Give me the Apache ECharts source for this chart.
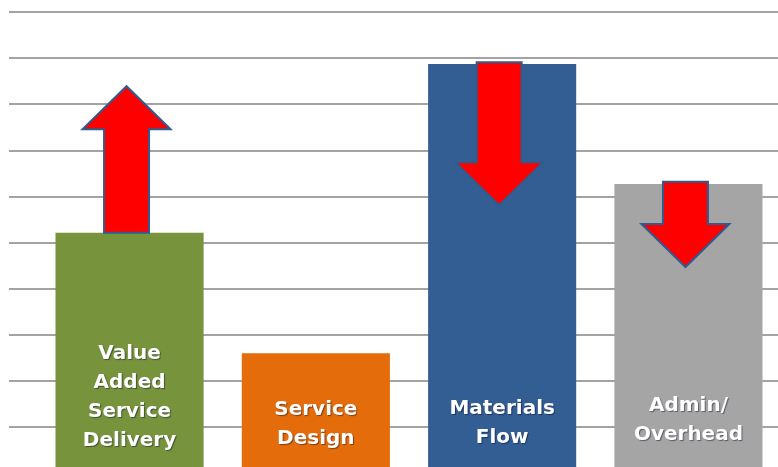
<!DOCTYPE html>
<html>
<head>
<meta charset="utf-8">
<script src="https://cdn.jsdelivr.net/npm/echarts@6/dist/echarts.min.js"></script>
<style>
html,body{margin:0;padding:0;background:#fff;width:778px;height:467px;overflow:hidden;}
#c{width:786px;height:474px;}
</style>
</head>
<body>
<div id="c"></div>
<script>
const categories = ['Value\nAdded\nService\nDelivery', 'Service\nDesign', 'Materials\nFlow', 'Admin/\nOverhead'];
const barValues = [5.21, 2.60, 8.87, 6.27];
const barColors = ['#77933c', '#e46c0a', '#335e93', '#a5a5a5'];
const arrowStart = [5.21, 8.91, 6.32];
const arrowEnd = [8.39, 5.81, 4.47];
const arrowCategory = [0, 2, 3];
const yTicks = [0, 1, 2, 3, 4, 5, 6, 7, 8, 9, 10];

// label offsets from bar base (style only)
const labelDistance = [18, 20, 21, 24];

const chart = echarts.init(document.getElementById('c'), null, {renderer: 'canvas'});

const arrowData = arrowCategory.map((c, i) => [c, arrowStart[i], arrowEnd[i]]);

const option = {
  animation: false,
  backgroundColor: '#ffffff',
  grid: [
    {left: 9, right: 0, top: 12, bottom: 0.9},
    {left: 36.4, width: 745.2, top: 12, bottom: 0.9}
  ],
  xAxis: [
    {gridIndex: 0, type: 'category', data: categories, show: false},
    {gridIndex: 1, type: 'category', data: categories, show: false}
  ],
  yAxis: [
    {gridIndex: 0, type: 'value', min: yTicks[0], max: yTicks[yTicks.length - 1], interval: 1,
      axisLabel: {show: false}, axisLine: {show: false}, axisTick: {show: false},
      splitLine: {show: true, lineStyle: {color: '#a3a3a3', width: 2}}},
    {gridIndex: 1, type: 'value', min: yTicks[0], max: yTicks[yTicks.length - 1], interval: 1,
      axisLabel: {show: false}, axisLine: {show: false}, axisTick: {show: false},
      splitLine: {show: false}}
  ],
  series: [
    {
      type: 'bar',
      xAxisIndex: 1, yAxisIndex: 1,
      barCategoryGap: '20.5%',
      data: barValues.map((v, i) => ({value: v, itemStyle: {color: barColors[i]}, label: {distance: labelDistance[i]}})),
      label: {
        show: true,
        position: 'insideBottom',
        formatter: (p) => categories[p.dataIndex],
        color: '#ffffff',
        fontFamily: 'DejaVu Sans',
        fontWeight: 'bold',
        fontSize: 20,
        lineHeight: 29,
        align: 'center',
        textShadowColor: 'rgba(0,0,40,0.45)',
        textShadowBlur: 1,
        textShadowOffsetX: 1,
        textShadowOffsetY: 1
      },
      z: 2
    },
    {
      type: 'custom',
      xAxisIndex: 1, yAxisIndex: 1,
      data: arrowData,
      encode: {x: 0, y: [1, 2]},
      z: 5,
      renderItem: function (params, api) {
        const s = api.coord([api.value(0), api.value(1)]);
        const e = api.coord([api.value(0), api.value(2)]);
        const cx = s[0] - 3;
        const sy = s[1], ey = e[1];
        const d = ey > sy ? 1 : -1;
        const sw = 45, hw = 88, hl = 43;
        const hb = ey - d * hl;
        const pts = [
          [cx - sw / 2, sy], [cx + sw / 2, sy], [cx + sw / 2, hb], [cx + hw / 2, hb],
          [cx, ey], [cx - hw / 2, hb], [cx - sw / 2, hb]
        ];
        return {
          type: 'polygon',
          shape: {points: pts},
          style: {fill: '#ff0000', stroke: '#2f5c8f', lineWidth: 2}
        };
      }
    }
  ]
};
chart.setOption(option);
</script>
</body>
</html>
